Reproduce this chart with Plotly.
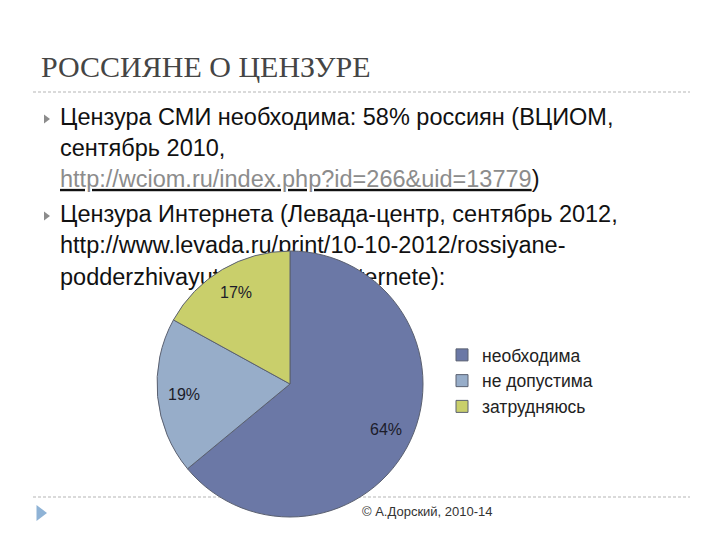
import math
import plotly.graph_objects as go

# ---- data ----
title_text = "РОССИЯНЕ О ЦЕНЗУРЕ"
bullet_lines = [
    "Цензура СМИ необходима: 58% россиян (ВЦИОМ,",
    "сентябрь 2010,",
    "<u><span style='color:#8c8c8c'>http://wciom.ru/index.php?id=266&amp;uid=13779</span></u>)",
    "Цензура Интернета (Левада-центр, сентябрь 2012,",
    "http://www.levada.ru/print/10-10-2012/rossiyane-",
    "podderzhivayut-cenzuru-v-Internete):",
]
bullet_flags = [True, False, False, True, False, False]
footer_text = "© А.Дорский, 2010-14"

labels = ["необходима", "не допустима", "затрудняюсь"]
values = [64, 19, 17]
colors = ["#6b78a6", "#97adc9", "#c9cf6b"]

# ---- layout constants (pixels, in reference-image coordinates) ----
W, H = 720, 540
OFF = 8  # page body margin: figure sits 8px right/down of the window origin
line_y = [119, 150, 181, 216, 247, 279]
text_x = 60
bullet_x = 46
cx, cy, R = 290, 384, 133

fig = go.Figure()

# slide text drawn on a pixel-coordinate cartesian layer (below the pie)
fig.add_trace(go.Scatter(
    x=[text_x] * len(bullet_lines), y=line_y, text=bullet_lines,
    mode="text", textposition="middle right",
    textfont=dict(family="Liberation Sans", size=23.5, color="#111111"),
    hoverinfo="skip", showlegend=False,
))
bx = [bullet_x for f in bullet_flags if f]
by = [y for y, f in zip(line_y, bullet_flags) if f]
fig.add_trace(go.Scatter(
    x=bx, y=by, mode="markers",
    marker=dict(symbol="triangle-right", size=8, color="#8c8c8c"),
    hoverinfo="skip", showlegend=False,
))
fig.add_trace(go.Scatter(
    x=[40], y=[513], mode="markers",
    marker=dict(symbol="triangle-right", size=14, color="#8fb3d6"),
    hoverinfo="skip", showlegend=False,
))
fig.add_trace(go.Scatter(
    x=[41], y=[69], text=[title_text], mode="text", textposition="middle right",
    textfont=dict(family="Liberation Serif", size=30, color="#454545"),
    hoverinfo="skip", showlegend=False,
))
fig.add_trace(go.Scatter(
    x=[362], y=[513], text=[footer_text], mode="text", textposition="middle right",
    textfont=dict(family="Liberation Sans", size=13, color="#333333"),
    hoverinfo="skip", showlegend=False,
))

# pie
fig.add_trace(go.Pie(
    labels=labels, values=values, sort=False, direction="clockwise", rotation=0,
    marker=dict(colors=colors, line=dict(color="#5a6070", width=1)),
    textinfo="none", hoverinfo="label+percent",
    domain=dict(x=[(cx - R - OFF) / W, (cx + R - OFF) / W],
                y=[(H - cy - R + OFF) / H, (H - cy + R + OFF) / H]),
))

# percentage labels at 0.8R along each slice's mid-angle
total = sum(values)
cum = 0
annotations = []
for v in values:
    mid = (cum + v / 2) / total * 2 * math.pi
    cum += v
    annotations.append(dict(
        x=cx + 0.8 * R * math.sin(mid), y=cy - 0.8 * R * math.cos(mid),
        xref="x", yref="y", text=f"{round(v / total * 100)}%", showarrow=False,
        font=dict(family="Liberation Sans", size=16, color="#1c1c2a"),
    ))

shapes = [
    dict(type="line", xref="x", yref="y", x0=33, x1=690, y0=92, y1=92,
         line=dict(color="#b5b5b5", width=1, dash="3px,2px"), layer="below"),
    dict(type="line", xref="x", yref="y", x0=33, x1=690, y0=497, y1=497,
         line=dict(color="#b5b5b5", width=1, dash="3px,2px"), layer="below"),
]

fig.update_layout(
    width=W, height=H, margin=dict(l=0, r=0, t=0, b=0),
    paper_bgcolor="white", plot_bgcolor="white",
    xaxis=dict(range=[OFF, W + OFF], visible=False, fixedrange=True, domain=[0, 1]),
    yaxis=dict(range=[H + OFF, OFF], visible=False, fixedrange=True, domain=[0, 1]),
    shapes=shapes, annotations=annotations,
    legend=dict(x=(442 - OFF) / W, y=1 - (337 - OFF) / H, xanchor="left", yanchor="top",
                font=dict(family="Liberation Sans", size=17.5, color="#222222"),
                bgcolor="rgba(0,0,0,0)", itemclick=False),
    showlegend=True,
)

fig.write_html("out.html")
